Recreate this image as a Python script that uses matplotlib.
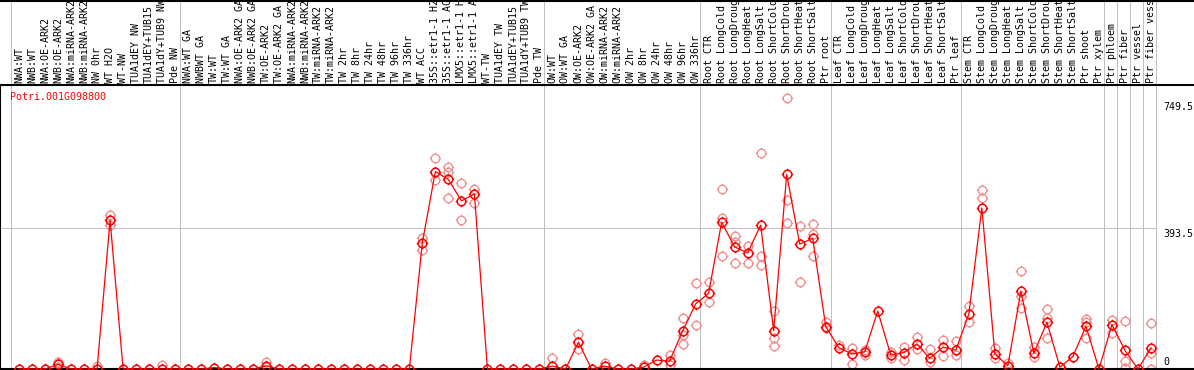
import numpy as np
import matplotlib
matplotlib.use('Agg')
import matplotlib.pyplot as plt
from matplotlib.path import Path

# ============================
# データ
# ============================
gene = "Potri.001G098800"

labels = [
    "NWA:WT", "NWB:WT", "NWA:OE-ARK2", "NWB:OE-ARK2", "NWA:miRNA-ARK2",
    "NWB:miRNA-ARK2", "NW 0hr", "WT H2O", "WT-NW", "TUA1dEY NW",
    "TUA1dEY+TUB15", "TUA1dY+TUB9 NW", "Pde NW", "NWA:WT GA", "NWBWT GA",
    "TW:WT", "TW:WT GA", "NWA:OE-ARK2 GA", "NWB:OE-ARK2 GA", "TW:OE-ARK2",
    "TW:OE-ARK2 GA", "NWA:miRNA-ARK2", "NWB:miRNA-ARK2", "TW:miRNA-ARK2", "TW:miRNA-ARK2",
    "TW 2hr", "TW 8hr", "TW 24hr", "TW 48hr", "TW 96hr",
    "TW 336hr", "WT ACC", "35S::etr1-1 H2", "35S::etr1-1 AC", "LMX5::etr1-1 H",
    "LMX5::etr1-1 A", "WT-TW", "TUA1dEY TW", "TUA1dEY+TUB15", "TUA1dY+TUB9 TW",
    "Pde TW", "OW:WT", "OW:WT GA", "OW:OE-ARK2", "OW:OE-ARK2 GA",
    "OW:miRNA-ARK2", "OW:miRNA-ARK2", "OW 2hr", "OW 8hr", "OW 24hr",
    "OW 48hr", "OW 96hr", "OW 336hr", "Root CTR", "Root LongCold",
    "Root LongDroug", "Root LongHeat", "Root LongSalt", "Root ShortCold", "Root ShortDrou",
    "Root ShortHeat", "Root ShortSalt", "Ptr root", "Leaf CTR", "Leaf LongCold",
    "Leaf LongDroug", "Leaf LongHeat", "Leaf LongSalt", "Leaf ShortCold", "Leaf ShortDrou",
    "Leaf ShortHeat", "Leaf ShortSalt", "Ptr leaf", "Stem CTR", "Stem LongCold",
    "Stem LongDroug", "Stem LongHeat", "Stem LongSalt", "Stem ShortCold", "Stem ShortDrou",
    "Stem ShortHeat", "Stem ShortSalt", "Ptr shoot", "Ptr xylem", "Ptr phloem",
    "Ptr fiber", "Ptr vessel", "Ptr fiber vess",
]

means = [
    0, 0, 0, 13, 0, 0, 0, 417, 0, 0,
    0, 0, 0, 0, 0, 4, 0, 0, 0, 9,
    0, 0, 0, 0, 0, 0, 0, 0, 0, 0,
    0, 354, 553, 531, 471, 490, 0, 0, 0, 0,
    0, 8, 0, 75, 0, 8, 0, 0, 5, 25,
    22, 106, 182, 212, 411, 342, 325, 403, 107, 545,
    350, 366, 119, 60, 42, 48, 162, 39, 46, 70,
    30, 61, 53, 154, 451, 42, 9, 218, 44, 131,
    5, 35, 120, 0, 124, 52, 0, 59,
]

# 反復データ（列番号 -> 値）
reps = {
    4: [20, 6], 7: [9], 8: [431, 403], 12: [11], 20: [20, 5],
    32: [368, 332], 33: [590, 529], 34: [565, 551, 478], 35: [520, 417], 36: [504, 464],
    42: [30], 44: [97, 55], 46: [18], 49: [11], 51: [39, 11],
    52: [144, 95, 69], 53: [240, 123], 54: [243, 189], 55: [504, 422, 317],
    56: [373, 355, 297], 57: [345, 297], 58: [605, 317, 290], 59: [163, 87, 65],
    60: [758, 473, 408], 61: [401, 243], 62: [405, 378, 317], 63: [131, 114],
    64: [67], 65: [58, 13], 66: [52, 40], 68: [48, 30], 69: [62, 25], 70: [89, 56],
    71: [55, 19], 72: [81, 36], 73: [79, 39], 74: [176, 131], 75: [501, 479],
    76: [58, 30], 77: [16], 78: [274, 204, 171], 79: [62, 33], 80: [167, 144, 86],
    83: [140, 133, 86], 85: [137, 100], 86: [134, 22, 3], 88: [128, 44, 0],
}

# グループ境界（この列の後ろに縦線）
group_ends = [0, 13, 41, 53, 63, 73, 84, 85, 86, 87, 88]
ytick_vals = [0, 393.5, 749.5]

# ============================
# 図
# ============================
W, H = 1194, 370
fig = plt.figure(figsize=(W / 100, H / 100), dpi=100)
top_px, bot_px = 85, 369
ax = fig.add_axes([0, (H - bot_px) / H, 1, (bot_px - top_px) / H])

pitch = 1132 / 87.0
x0 = 1 - 19 / pitch
ax.set_xlim(x0, x0 + W / pitch)
scale = (369 - 228.5) / 393.5
ax.set_ylim(0, (bot_px - top_px) / scale)

# 丸＋4方向の目盛り付きマーカー（多角形で丸を作る）
t = np.linspace(0, 2 * np.pi, 41)
circ = Path(np.c_[np.cos(t), np.sin(t)], closed=True)
tk = 1.35
segs = [Path([[0, 1], [0, tk]]), Path([[0, -1], [0, -tk]]),
        Path([[1, 0], [tk, 0]]), Path([[-1, 0], [-tk, 0]])]
marker = Path.make_compound_path(circ, *segs)

grid_c = '#c0c0c0'
px1 = 0.72  # 1ピクセル
for g in group_ends:
    ax.axvline(g + 0.37, ymin=0, ymax=1 + top_px / (bot_px - top_px),
               color=grid_c, lw=px1, clip_on=False, zorder=1, antialiased=False)
ax.plot([x0, 88.37], [393.5, 393.5], color=grid_c, lw=px1, zorder=1, antialiased=False)

xs = np.arange(1, len(means) + 1)
rx, ry = [], []
for k, vals in reps.items():
    rx += [k] * len(vals)
    ry += vals
ax.plot(rx, ry, ls='none', marker=marker, ms=8.2, mfc='none', mec='#f09090',
        mew=1.0, clip_on=False, zorder=2, antialiased=False)
ax.plot(xs, means, color='#ff0000', lw=0.9, clip_on=False, zorder=3)
ax.plot(xs, means, ls='none', marker=marker, ms=8.2, mfc='none',
        mec='#ff0000', mew=1.1, clip_on=False, zorder=4, antialiased=False)

mono = 'DejaVu Sans Mono'
for i, lab in enumerate(labels):
    ax.text(i + 1, 1 + 2 / (bot_px - top_px), lab, rotation=90, ha='center',
            va='bottom', fontsize=7.2, family=mono,
            transform=ax.get_xaxis_transform(), clip_on=False)

ax.text(x0 + 10 / pitch, 1 - 12 / (bot_px - top_px), gene, color='#ff0000',
        fontsize=7.2, family=mono, va='center', ha='left',
        transform=ax.get_xaxis_transform())

for v in ytick_vals:
    ax.text(x0 + 1163 / pitch, v + (2 / scale if v == 0 else -1 / scale), f'{v:g}',
            fontsize=7.2, family=mono, va='bottom' if v == 0 else 'top', ha='left')

ax.set_xticks([])
ax.set_yticks([])
ax.spines['right'].set_visible(False)
for s in ['left', 'bottom', 'top']:
    ax.spines[s].set_linewidth(1.5)
    ax.spines[s].set_color('black')

# 上端の枠線
fig.add_artist(plt.Line2D([0, 1], [1 - 0.5 / H, 1 - 0.5 / H], color='black', lw=1.5))

fig.savefig('out.png', dpi=100, facecolor='white')
